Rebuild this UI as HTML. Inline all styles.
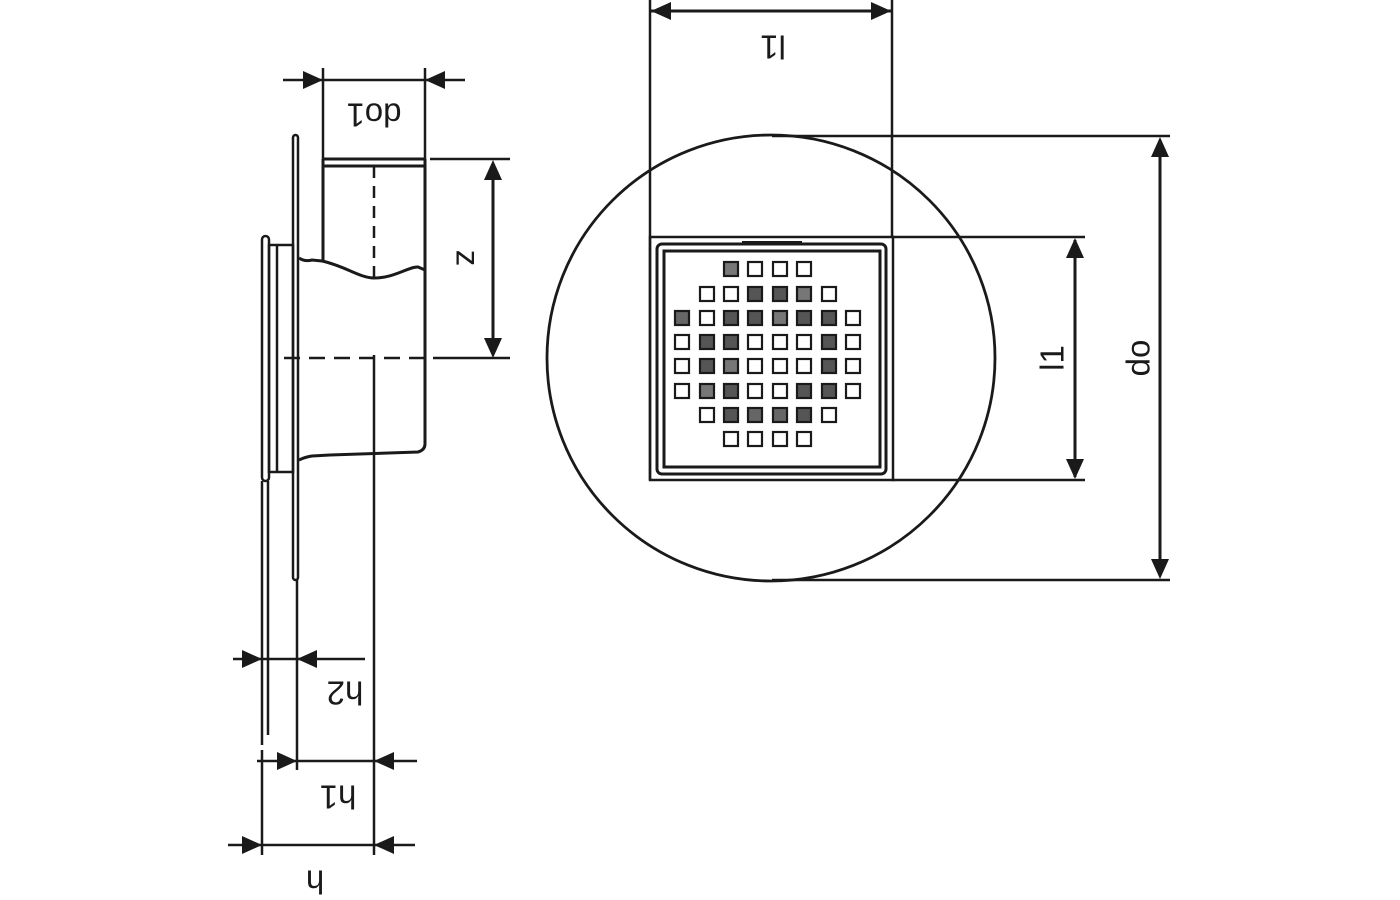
<!DOCTYPE html>
<html><head><meta charset="utf-8"><style>
html,body{margin:0;padding:0;background:#fff;}
svg{display:block}
text{font-family:"Liberation Sans",sans-serif;fill:#1a1a1a;}
</style></head><body>
<svg width="1400" height="900" viewBox="0 0 1400 900" xmlns="http://www.w3.org/2000/svg">
<g stroke="#1a1a1a" fill="none" stroke-width="2.5">
<rect x="293" y="135" width="5" height="445" rx="2.5"/>
<rect x="262" y="236" width="7" height="245" rx="3.5"/>
<rect x="269" y="245" width="24" height="227"/>
<line x1="277" y1="245" x2="277" y2="472"/>
<line x1="323" y1="159" x2="425" y2="159" stroke-width="3"/>
<line x1="323" y1="166" x2="425" y2="166" stroke-width="3"/>
<line x1="323" y1="159" x2="323" y2="262" stroke-width="3"/>
<line x1="425" y1="159" x2="425" y2="444" stroke-width="3"/>
<path d="M299 258 Q305 262 312 260 L322 261 C345 266 360 278 374 278 C395 278 410 266 418 267 L425 270" stroke-width="3"/>
<path d="M425 444 Q425 450 418 452 L330 455 L312 456 Q305 457 299 460" stroke-width="3"/>
<line x1="374" y1="166" x2="374" y2="280" stroke-dasharray="12,8"/>
<line x1="374" y1="355" x2="374" y2="855"/>
<line x1="284" y1="358" x2="425" y2="358" stroke-dasharray="16,9"/>
<line x1="433" y1="358" x2="510" y2="358"/>
<line x1="430" y1="159" x2="510" y2="159"/>
<line x1="262" y1="481" x2="262" y2="745"/>
<line x1="262" y1="750" x2="262" y2="855"/>
<line x1="268" y1="481" x2="268" y2="735"/>
<line x1="297" y1="580" x2="297" y2="770"/>
<line x1="493" y1="165" x2="493" y2="352" stroke-width="3"/>
<line x1="283" y1="80" x2="465" y2="80"/>
<line x1="323" y1="68" x2="323" y2="159"/>
<line x1="425" y1="68" x2="425" y2="159"/>
<line x1="233" y1="659" x2="365" y2="659"/>
<line x1="257" y1="761" x2="417" y2="761"/>
<line x1="228" y1="845" x2="415" y2="845"/>

<ellipse cx="771" cy="358" rx="224" ry="223" stroke-width="2.8"/>
<line x1="650" y1="0" x2="650" y2="480"/>
<line x1="892" y1="0" x2="892" y2="237"/>
<line x1="650" y1="11" x2="892" y2="11" stroke-width="3"/>
<rect x="650" y="237" width="243" height="243"/>
<rect x="657" y="244" width="229" height="230" rx="5" stroke-width="3"/>
<rect x="664" y="251" width="216" height="216" stroke-width="3"/>
<line x1="892" y1="237" x2="1085" y2="237"/>
<line x1="892" y1="480" x2="1085" y2="480"/>
<line x1="1075" y1="240" x2="1075" y2="477" stroke-width="3"/>
<line x1="772" y1="136" x2="1170" y2="136"/>
<line x1="772" y1="580" x2="1170" y2="580"/>
<line x1="1160" y1="140" x2="1160" y2="576" stroke-width="3"/>
</g>
<g fill="#1a1a1a">
<polygon points="493,160 484,180 502,180"/>
<polygon points="493,358 484,338 502,338"/>
<polygon points="323,80 303,71 303,89"/>
<polygon points="425,80 445,71 445,89"/>
<polygon points="262,659 242,650 242,668"/>
<polygon points="297,659 317,650 317,668"/>
<polygon points="297,761 277,752 277,770"/>
<polygon points="374,761 394,752 394,770"/>
<polygon points="262,845 242,836 242,854"/>
<polygon points="374,845 394,836 394,854"/>
<polygon points="651,11 671,2 671,20"/>
<polygon points="891,11 871,2 871,20"/>
<polygon points="1075,238 1066,258 1084,258"/>
<polygon points="1075,479 1066,459 1084,459"/>
<polygon points="1160,137 1151,157 1169,157"/>
<polygon points="1160,579 1151,559 1169,559"/>
<rect x="742" y="241" width="60" height="2"/>
</g>
<g stroke="#1a1a1a" stroke-width="2.2" fill="none">
<rect x="724" y="262" width="14" height="14" fill="#777"/><rect x="748" y="262" width="14" height="14"/><rect x="773" y="262" width="14" height="14"/><rect x="797" y="262" width="14" height="14"/>
<rect x="700" y="287" width="14" height="14"/><rect x="724" y="287" width="14" height="14"/><rect x="748" y="287" width="14" height="14" fill="#555"/><rect x="773" y="287" width="14" height="14" fill="#555"/><rect x="797" y="287" width="14" height="14" fill="#777"/><rect x="822" y="287" width="14" height="14"/>
<rect x="675" y="311" width="14" height="14" fill="#666"/><rect x="700" y="311" width="14" height="14"/><rect x="724" y="311" width="14" height="14" fill="#555"/><rect x="748" y="311" width="14" height="14" fill="#555"/><rect x="773" y="311" width="14" height="14" fill="#777"/><rect x="797" y="311" width="14" height="14" fill="#555"/><rect x="822" y="311" width="14" height="14" fill="#555"/><rect x="846" y="311" width="14" height="14"/>
<rect x="675" y="335" width="14" height="14"/><rect x="700" y="335" width="14" height="14" fill="#555"/><rect x="724" y="335" width="14" height="14" fill="#555"/><rect x="748" y="335" width="14" height="14"/><rect x="773" y="335" width="14" height="14"/><rect x="797" y="335" width="14" height="14"/><rect x="822" y="335" width="14" height="14" fill="#555"/><rect x="846" y="335" width="14" height="14"/>
<rect x="675" y="359" width="14" height="14"/><rect x="700" y="359" width="14" height="14" fill="#555"/><rect x="724" y="359" width="14" height="14" fill="#777"/><rect x="748" y="359" width="14" height="14"/><rect x="773" y="359" width="14" height="14"/><rect x="797" y="359" width="14" height="14"/><rect x="822" y="359" width="14" height="14" fill="#555"/><rect x="846" y="359" width="14" height="14"/>
<rect x="675" y="384" width="14" height="14"/><rect x="700" y="384" width="14" height="14" fill="#777"/><rect x="724" y="384" width="14" height="14" fill="#555"/><rect x="748" y="384" width="14" height="14"/><rect x="773" y="384" width="14" height="14"/><rect x="797" y="384" width="14" height="14" fill="#555"/><rect x="822" y="384" width="14" height="14" fill="#555"/><rect x="846" y="384" width="14" height="14"/>
<rect x="700" y="408" width="14" height="14"/><rect x="724" y="408" width="14" height="14" fill="#555"/><rect x="748" y="408" width="14" height="14" fill="#666"/><rect x="773" y="408" width="14" height="14" fill="#666"/><rect x="797" y="408" width="14" height="14" fill="#555"/><rect x="822" y="408" width="14" height="14"/>
<rect x="724" y="432" width="14" height="14"/><rect x="748" y="432" width="14" height="14"/><rect x="773" y="432" width="14" height="14"/><rect x="797" y="432" width="14" height="14"/>
</g>
<g font-size="33">
<text x="374" y="112" text-anchor="middle" transform="rotate(180 374 112)" dominant-baseline="middle">do1</text>
<text x="465" y="258" text-anchor="middle" transform="rotate(90 465 258)" dominant-baseline="middle">z</text>
<text x="345" y="690" text-anchor="middle" transform="rotate(180 345 690)" dominant-baseline="middle">h2</text>
<text x="338" y="794" text-anchor="middle" transform="rotate(180 338 794)" dominant-baseline="middle">h1</text>
<text x="315" y="879" text-anchor="middle" transform="rotate(180 315 879)" dominant-baseline="middle">h</text>
<text x="773" y="44" text-anchor="middle" transform="rotate(180 773 44)" dominant-baseline="middle">l1</text>
<text x="1055" y="358" text-anchor="middle" transform="rotate(-90 1055 358)" dominant-baseline="middle">l1</text>
<text x="1141" y="358" text-anchor="middle" transform="rotate(-90 1141 358)" dominant-baseline="middle">do</text>
</g>
</svg>
</body></html>
